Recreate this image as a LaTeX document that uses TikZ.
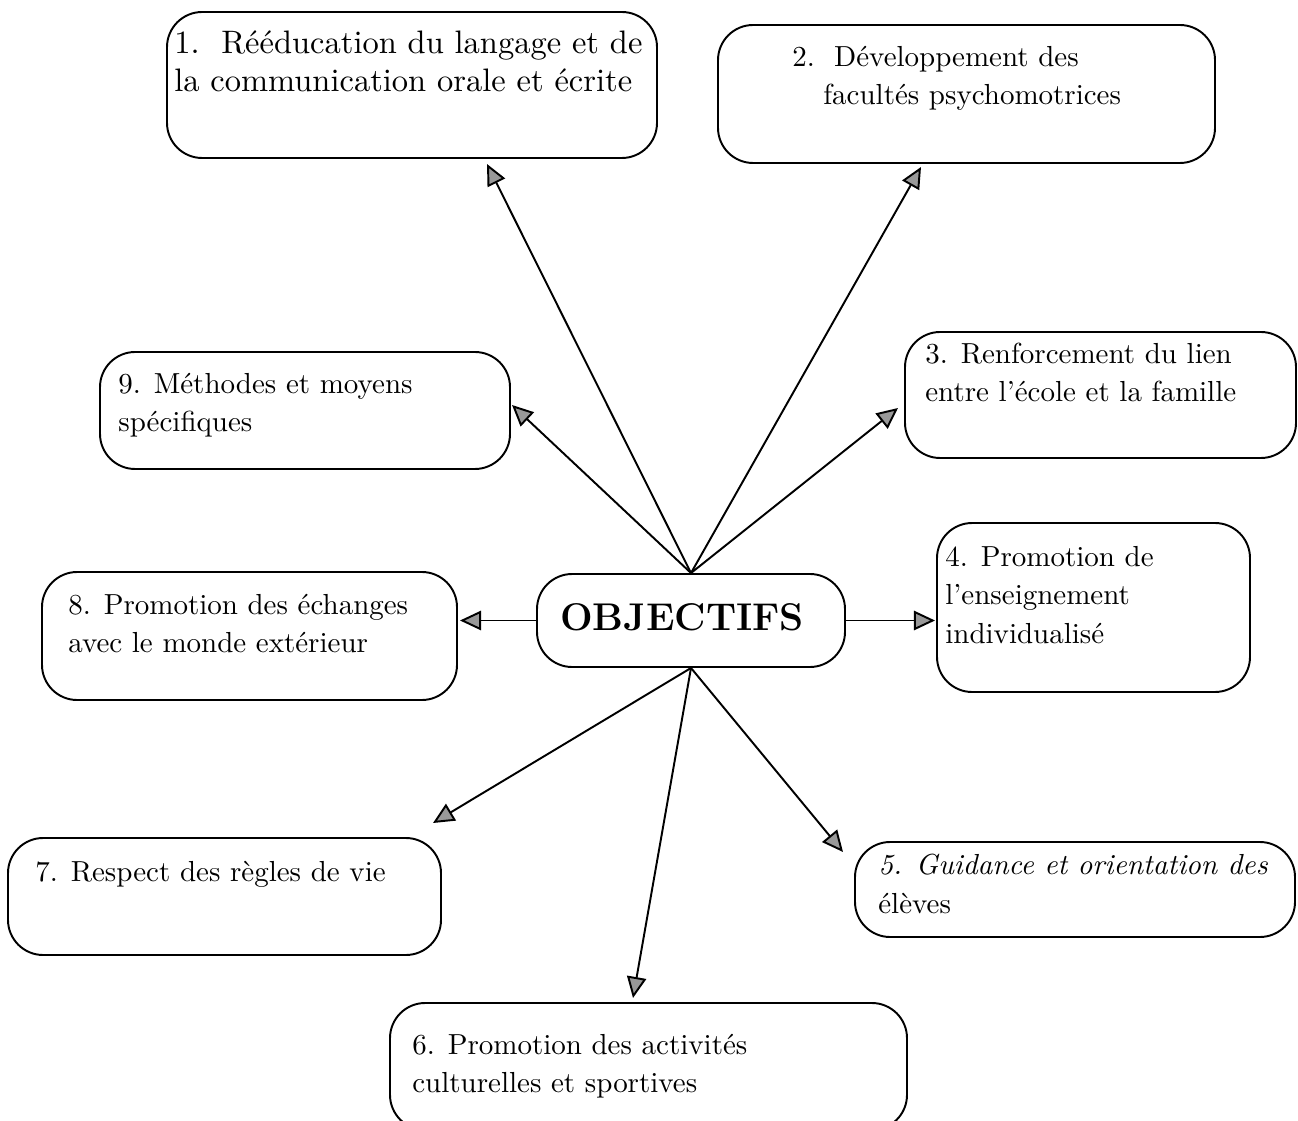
\documentclass[tikz,border=0pt]{standalone}
\usepackage{fontspec}
\newfontfamily\boxfont{lmroman10-regular.otf}[Ligatures=TeX,ItalicFont=lmroman10-italic.otf]
\usetikzlibrary{arrows.meta}

\begin{document}
\begin{tikzpicture} [
                x=0.02cm, y=-0.02cm,
                box/.style={draw,rounded corners=20,line width=1.1pt,inner sep=0pt},
                txt/.style={inner sep=0pt,align=left,anchor=base west,
                    font=\boxfont\fontsize{16.5}{22}\selectfont},
                arr/.style = {draw,line width=1.1pt,
                    -{Triangle[open,length=12pt,width=11pt,fill=black!40]}},
            ]
            \useasboundingbox (0,0) rectangle (1298,1121);
            % boxes
            \foreach \pos/\w/\h/\name in {
                    {(412,85)/490/146/b1}, {(966.5,94)/497/138/b2},
                    {(1100.5,395)/391/126/b3}, {(1093.5,607.5)/313/169/b4},
                    {(1075,889.5)/440/95/b5}, {(648.5,1066.5)/517/127/b6},
                    {(224.5,896.5)/433/117/b7}, {(249.5,636)/415/128/b8},
                    {(305,410.5)/410/117/b9}, {(691,620.5)/308/93/c}}
                \node[box,minimum width=\w*0.02cm,minimum height=\h*0.02cm] (\name) at \pos {};
            % texts (base = last line)
            \node[txt,font=\boxfont\fontsize{18.5}{22}\selectfont] (t1) at (174,91.8) {1.\ \ R\'e\'education du langage et de\\la communication orale et \'ecrite};
            \node[txt] (t2) at (792,104.8) {2.\ \ D\'eveloppement des\\\hspace{0.62cm}facult\'es psychomotrices};
            \node[txt] (t3) at (925,402) {3. Renforcement du lien\\entre l'\'ecole et la famille};
            \node[txt] (t4) at (945,643.6) {4. Promotion de\\l'enseignement\\individualis\'e};
            \node[txt] (t5) at (878,913) {\itshape 5. Guidance et orientation des\\\'el\`eves};
            \node[txt] (t6) at (412,1092.8) {6. Promotion des activit\'es\\culturelles et sportives};
            \node[txt] (t7) at (35,881) {7. Respect des r\`egles de vie};
            \node[txt] (t8) at (68,652.8) {8. Promotion des \'echanges\\avec le monde ext\'erieur};
            \node[txt] (t9) at (118,431.8) {9. M\'ethodes et moyens\\sp\'ecifiques};
            \node[font=\fontsize{22}{26}\selectfont\bfseries] (obj) at (682,617) {OBJECTIFS};
            % arrow tips
            \coordinate (a1) at (487,164);
            \coordinate (a2) at (921,167);
            \coordinate (a3) at (898,408);
            \coordinate (a4) at (935,620.5);
            \coordinate (a5) at (843,852);
            \coordinate (a6) at (633,998);
            \coordinate (a7) at (433,823);
            \coordinate (a8) at (460,620.5);
            \coordinate (a9) at (512,405);
            \path[arr] (c.north) -- (a1);
            \path[arr] (c.north) -- (a2);
            \path[arr] (c.north) -- (a3);
            \path[arr] (c.north) -- (a9);
            \path[arr] (c.west) -- (a8);
            \path[arr] (c.east) -- (a4);
            \path[arr] (c.south) -- (a5);
            \path[arr] (c.south) -- (a6);
            \path[arr] (c.south) -- (a7);
        \end{tikzpicture}
\end{document}
